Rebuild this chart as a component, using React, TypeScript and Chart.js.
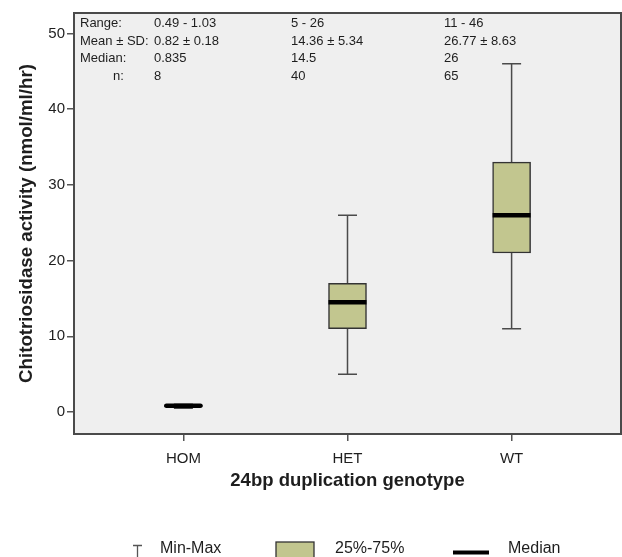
import React, { useEffect, useRef } from 'react';
import { Chart, registerables } from 'chart.js';

Chart.register(...registerables);

const FONT = '"Liberation Sans", Arial, Helvetica, sans-serif';

// ---- data ----
const categories = ['HOM', 'HET', 'WT'];
const minValues = [0.49, 5, 11];
const q1Values = [0.72, 11, 21];
const medianValues = [0.835, 14.5, 26];
const q3Values = [0.95, 17, 33];
const maxValues = [1.03, 26, 46];
const yTicks = [0, 10, 20, 30, 40, 50];

const statLabels = ['Range:', 'Mean ± SD:', 'Median:', 'n:'];
const statRange = ['0.49 - 1.03', '5 - 26', '11 - 46'];
const statMeanSd = ['0.82 ± 0.18', '14.36 ± 5.34', '26.77 ± 8.63'];
const statMedian = ['0.835', '14.5', '26'];
const statN = ['8', '40', '65'];

const legendLabels = ['Min-Max', '25%-75%', 'Median'];

// ---- styles ----
const BOX_FILL = '#c2c68f';
const BOX_EDGE = '#333333';
const WHISKER = '#4a4a4a';
const PLOT_BG = '#efefef';
const FRAME = '#4a4a4a';
const TEXT = '#1e1e1e';
const BOX_W = 38;
const CAP_W = 19;

const boxPlugin = {
  id: 'boxParts',
  beforeDraw(chart: any) {
    const { ctx, chartArea: a } = chart;
    ctx.save();
    ctx.fillStyle = PLOT_BG;
    ctx.fillRect(a.left, a.top, a.right - a.left, a.bottom - a.top);
    ctx.restore();
  },
  beforeDatasetsDraw(chart: any) {
    const { ctx } = chart;
    const xs = chart.scales.x;
    const ys = chart.scales.y;
    ctx.save();
    ctx.strokeStyle = WHISKER;
    ctx.lineWidth = 1.5;
    categories.forEach((_, i) => {
      const x = xs.getPixelForValue(i + 1);
      const yMin = ys.getPixelForValue(minValues[i]);
      const yMax = ys.getPixelForValue(maxValues[i]);
      const yQ1 = ys.getPixelForValue(q1Values[i]);
      const yQ3 = ys.getPixelForValue(q3Values[i]);
      ctx.beginPath();
      ctx.moveTo(x, yMax);
      ctx.lineTo(x, yQ3);
      ctx.moveTo(x, yQ1);
      ctx.lineTo(x, yMin);
      ctx.moveTo(x - CAP_W / 2, yMax);
      ctx.lineTo(x + CAP_W / 2, yMax);
      ctx.moveTo(x - CAP_W / 2, yMin);
      ctx.lineTo(x + CAP_W / 2, yMin);
      ctx.stroke();
    });
    ctx.restore();
  },
  afterDatasetsDraw(chart: any) {
    const { ctx } = chart;
    const xs = chart.scales.x;
    const ys = chart.scales.y;
    ctx.save();
    ctx.strokeStyle = '#000';
    ctx.lineWidth = 4.5;
    categories.forEach((_, i) => {
      const x = xs.getPixelForValue(i + 1);
      const y = ys.getPixelForValue(medianValues[i]);
      const boxH = ys.getPixelForValue(q1Values[i]) - ys.getPixelForValue(q3Values[i]);
      const round = boxH < 6;
      ctx.lineCap = round ? 'round' : 'butt';
      const half = round ? BOX_W / 2 - 2 : BOX_W / 2;
      ctx.beginPath();
      ctx.moveTo(x - half, y);
      ctx.lineTo(x + half, y);
      ctx.stroke();
    });
    ctx.restore();
  },
  afterDraw(chart: any) {
    const { ctx, chartArea: a } = chart;
    ctx.save();
    // frame
    ctx.strokeStyle = FRAME;
    ctx.lineWidth = 2;
    ctx.strokeRect(a.left, a.top, a.right - a.left, a.bottom - a.top);

    // statistics text
    ctx.fillStyle = TEXT;
    ctx.font = `13px ${FONT}`;
    ctx.textBaseline = 'middle';
    ctx.textAlign = 'left';
    const rowY = [23.5, 41.2, 58.8, 76.2];
    const labelX = [a.left + 6, a.left + 6, a.left + 6, a.left + 39];
    const colX = [a.left + 80, a.left + 217, a.left + 370];
    const rows = [statRange, statMeanSd, statMedian, statN];
    statLabels.forEach((lab, r) => {
      ctx.fillText(lab, labelX[r], rowY[r]);
      rows[r].forEach((val, c) => ctx.fillText(val, colX[c], rowY[r]));
    });

    // legend
    const ly = 549;
    ctx.font = `16px ${FONT}`;
    ctx.strokeStyle = '#555';
    ctx.lineWidth = 1.3;
    ctx.beginPath();
    ctx.moveTo(133, 545.5);
    ctx.lineTo(142, 545.5);
    ctx.moveTo(137.5, 545.5);
    ctx.lineTo(137.5, 560);
    ctx.stroke();
    ctx.fillText(legendLabels[0], 160, ly);

    ctx.fillStyle = BOX_FILL;
    ctx.fillRect(276, 542, 38, 18);
    ctx.strokeStyle = BOX_EDGE;
    ctx.lineWidth = 1.3;
    ctx.strokeRect(276, 542, 38, 18);
    ctx.fillStyle = TEXT;
    ctx.fillText(legendLabels[1], 335, ly);

    ctx.strokeStyle = '#000';
    ctx.lineWidth = 4;
    ctx.beginPath();
    ctx.moveTo(453, 552.5);
    ctx.lineTo(489, 552.5);
    ctx.stroke();
    ctx.fillText(legendLabels[2], 508, ly);
    ctx.restore();
  },
};

export default function App() {
  const ref = useRef<HTMLCanvasElement | null>(null);

  useEffect(() => {
    document.body.style.margin = '0';
    Chart.defaults.font.family = FONT;
    const canvas = ref.current!;
    const tickGrid = {
      drawOnChartArea: false,
      drawTicks: true,
      tickLength: 7,
      tickColor: '#555',
      lineWidth: 1.5,
      offset: false,
    };
    const chart = new Chart(canvas, {
      type: 'bar',
      data: {
        datasets: [
          {
            data: categories.map((_, i) => ({ x: i + 1, y: [q1Values[i], q3Values[i]] })) as any,
            backgroundColor: BOX_FILL,
            borderColor: BOX_EDGE,
            borderWidth: 1.5,
            borderSkipped: false,
            barThickness: BOX_W,
            grouped: false,
          } as any,
        ],
      },
      options: {
        animation: false,
        responsive: false,
        maintainAspectRatio: false,
        events: [],
        layout: { padding: { left: 0, top: 13, right: 1, bottom: 65 } },
        plugins: { legend: { display: false }, tooltip: { enabled: false } },
        scales: {
          x: {
            type: 'linear',
            offset: false,
            min: 1 / 3,
            max: 11 / 3,
            afterBuildTicks: (s: any) => {
              s.ticks = categories.map((_, i) => ({ value: i + 1 }));
            },
            afterFit: (s: any) => {
              s.height = 58;
            },
            ticks: {
              autoSkip: false,
              maxRotation: 0,
              padding: 9,
              color: TEXT,
              font: { family: FONT, size: 15 },
              callback: (v: any) => categories[Math.round(Number(v)) - 1] ?? '',
            },
            grid: tickGrid,
            border: { display: false },
            title: {
              display: true,
              text: '24bp duplication genotype',
              color: TEXT,
              font: { family: FONT, size: 18.5, weight: 'bold' },
              padding: { top: 0, bottom: 0 },
            },
          },
          y: {
            type: 'linear',
            min: -2.9,
            max: 52.7,
            afterBuildTicks: (s: any) => {
              s.ticks = yTicks.map((v) => ({ value: v }));
            },
            afterFit: (s: any) => {
              s.width = 74;
            },
            ticks: {
              padding: 2,
              color: TEXT,
              font: { family: FONT, size: 15 },
            },
            grid: tickGrid,
            border: { display: false },
            title: {
              display: true,
              text: 'Chitotriosidase activity (nmol/ml/hr)',
              color: TEXT,
              font: { family: FONT, size: 18.7, weight: 'bold' },
              padding: { top: 16, bottom: 0 },
            },
          },
        },
      } as any,
      plugins: [boxPlugin],
    });
    return () => chart.destroy();
  }, []);

  return (
    <div style={{ width: 622, height: 557, background: '#fff' }}>
      <canvas ref={ref} width={622} height={557} style={{ width: 622, height: 557, display: 'block' }} />
    </div>
  );
}
